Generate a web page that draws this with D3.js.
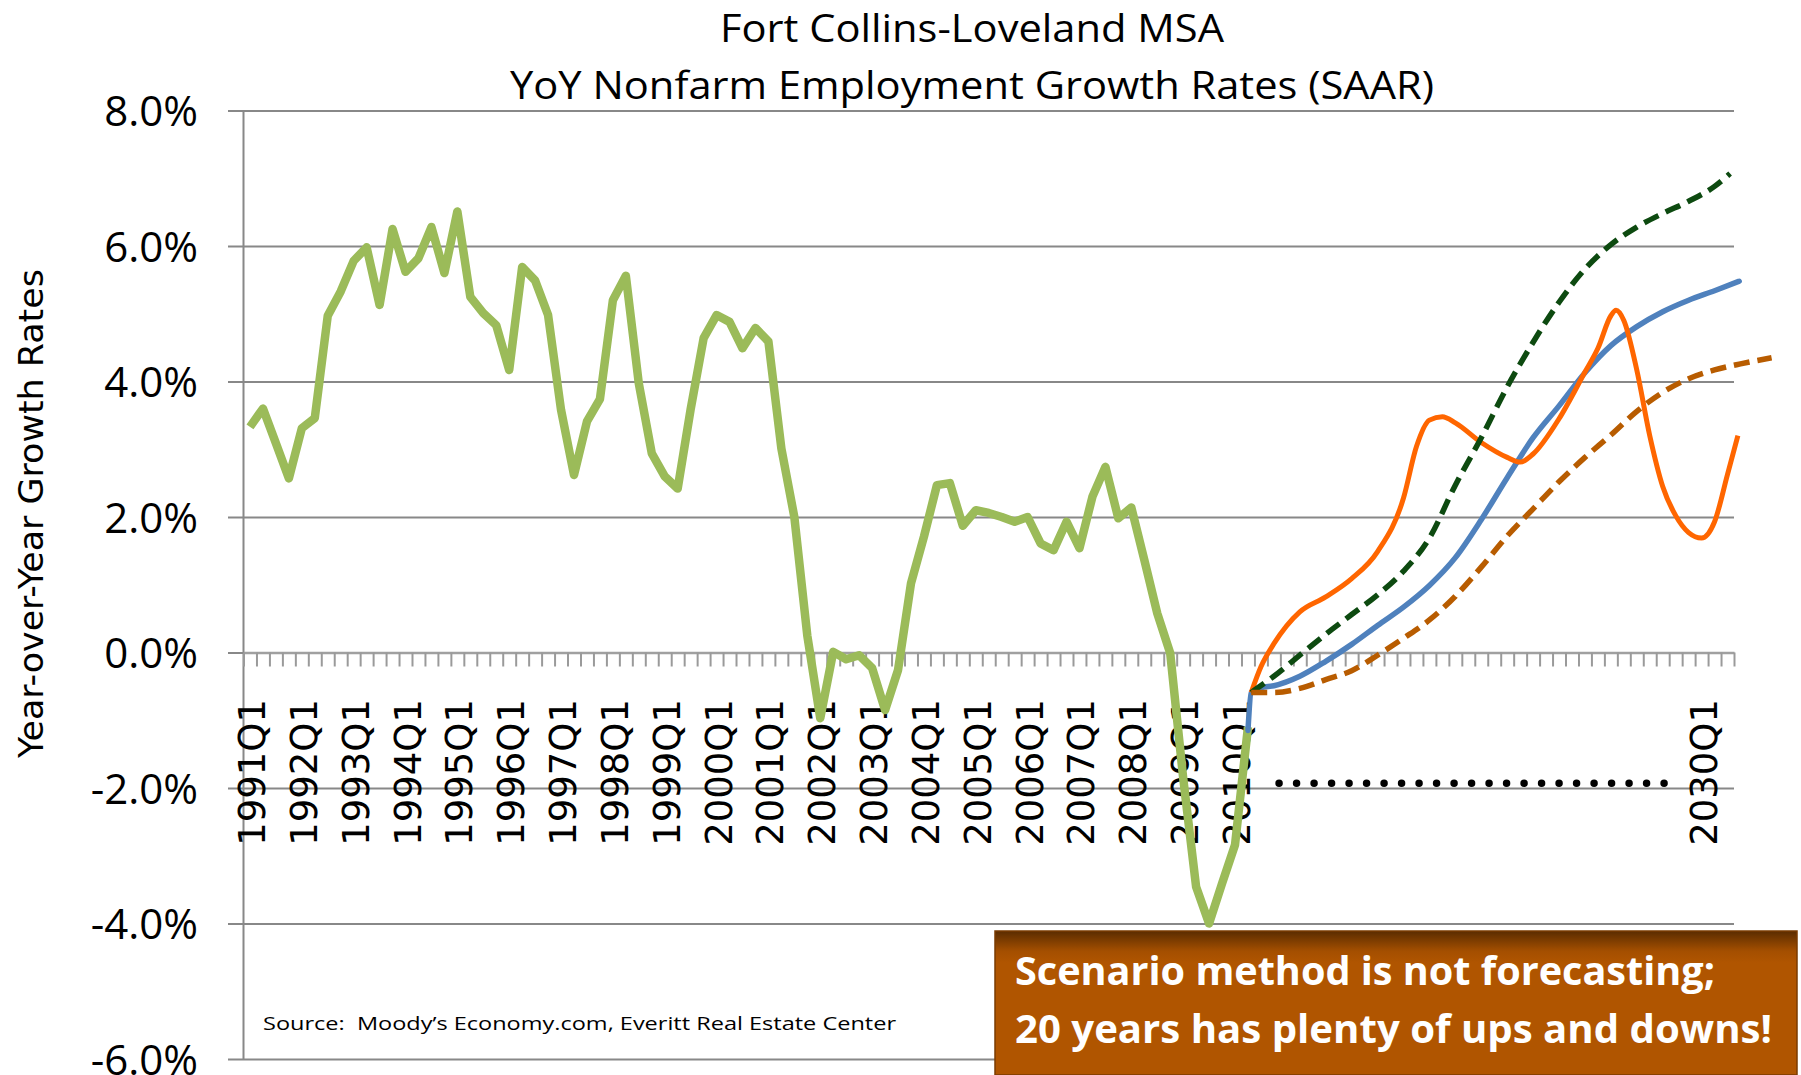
<!DOCTYPE html>
<html lang='en'>
<head>
<meta http-equiv='Content-Type' content='text/html;charset=utf-8'/>
<title>Fort Collins-Loveland MSA</title>
<script src='https://d3js.org/d3.v7.min.js'></script>
<style>
  body { margin: 0; background: #ffffff; }
</style>
</head>
<body>
<script>
'use strict'

// YoY nonfarm employment growth, %, one value per quarter from 1991Q1 (index 0)
const history = [
  3.33, 3.60, 3.09, 2.57, 3.31, 3.46, 4.97, 5.33, 5.78, 5.98,
  5.13, 6.25, 5.62, 5.82, 6.28, 5.60, 6.51, 5.25, 5.01, 4.83,
  4.17, 5.69, 5.49, 4.98, 3.58, 2.62, 3.41, 3.74, 5.20, 5.56,
  3.97, 2.94, 2.60, 2.42, 3.59, 4.64, 4.98, 4.88, 4.49, 4.79,
  4.59, 3.01, 2.00, 0.25, -0.97, 0.01, -0.10, -0.04, -0.23, -0.85,
  -0.26, 1.02, 1.71, 2.47, 2.50, 1.87, 2.10, 2.06, 2.00, 1.93,
  2.00, 1.61, 1.51, 1.93, 1.54, 2.30, 2.74, 1.98, 2.14, 1.37,
  0.58, -0.01, -1.85, -3.46, -4.00, -3.41, -2.84, -1.10
]

// category labels: [quarter index, label]
const xLabels = [
  [0, '1991Q1'], [4, '1992Q1'], [8, '1993Q1'], [12, '1994Q1'], [16, '1995Q1'],
  [20, '1996Q1'], [24, '1997Q1'], [28, '1998Q1'], [32, '1999Q1'], [36, '2000Q1'],
  [40, '2001Q1'], [44, '2002Q1'], [48, '2003Q1'], [52, '2004Q1'], [56, '2005Q1'],
  [60, '2006Q1'], [64, '2007Q1'], [68, '2008Q1'], [72, '2009Q1'], [76, '2010Q1'],
  [112, '2030Q1']
]
const nCategories = 115
const yTicks = [-6, -4, -2, 0, 2, 4, 6, 8]

// scenario curves: [quarter index, %]
const baseline = [
  [77, -1.15], [77.25, -0.59], [78, -0.52], [79, -0.49], [81, -0.35], [83, -0.13],
  [85, 0.12], [87, 0.40], [89, 0.67], [91, 0.99], [93, 1.40], [95, 1.96],
  [97, 2.58], [99, 3.17], [101, 3.64], [103, 4.13], [105, 4.53], [107, 4.81],
  [109, 5.03], [111, 5.20], [113, 5.34], [114.9, 5.48]
]
const swings = [
  [77.25, -0.59], [78, -0.21], [79, 0.13], [81, 0.60], [83, 0.82], [85, 1.09],
  [87, 1.49], [89, 2.28], [90, 3.04], [91, 3.43], [92, 3.48], [93, 3.39],
  [95, 3.10], [97, 2.88], [98, 2.81], [99, 2.93], [101, 3.45], [103, 4.14],
  [104, 4.49], [105, 4.97], [105.4, 5.05], [106, 4.90], [107, 4.17], [108, 3.20],
  [109, 2.45], [110, 2.02], [111, 1.77], [112, 1.69], [113, 1.93], [114, 2.63],
  [114.8, 3.20]
]
const upside = [
  [77.25, -0.59], [79, -0.35], [81, -0.04], [83, 0.27], [85, 0.56], [87, 0.85],
  [89, 1.20], [91, 1.69], [93, 2.47], [95, 3.17], [97, 3.92], [99, 4.58],
  [101, 5.17], [103, 5.66], [105, 6.02], [107, 6.28], [109, 6.48], [111, 6.66],
  [113, 6.88], [114.2, 7.07]
]
const downside = [
  [77.25, -0.59], [79, -0.59], [81, -0.53], [83, -0.40], [85, -0.27], [87, -0.04],
  [89, 0.21], [91, 0.48], [93, 0.83], [95, 1.26], [97, 1.72], [99, 2.12],
  [101, 2.52], [103, 2.88], [105, 3.21], [107, 3.56], [109, 3.84], [111, 4.04],
  [113, 4.17], [115, 4.26], [117.4, 4.35]
]
const flat = [[79.4, -1.93], [109.3, -1.93]]

const width = 1801
const height = 1075
const plot = {left: 243.5, right: 1734, top: 110.5, bottom: 1059}

const x = d3.scaleLinear()
  .domain([-0.5, nCategories - 0.5])
  .range([plot.left, plot.right])
const y = d3.scaleLinear()
  .domain([-6, 8])
  .range([plot.bottom, plot.top])

const svg = d3.select('body').append('svg')
  .attr('width', width)
  .attr('height', height)

svg.append('rect')
  .attr('width', width)
  .attr('height', height)
  .attr('fill', '#ffffff')

// title
const title = svg.append('g')
  .attr('font-family', "'Open Sans', sans-serif")
  .attr('font-size', 38)
  .attr('text-anchor', 'middle')
  .attr('fill', '#000')
title.append('text')
  .attr('x', 972).attr('y', 41.7)
  .attr('textLength', 504).attr('lengthAdjust', 'spacingAndGlyphs')
  .text('Fort Collins-Loveland MSA')
title.append('text')
  .attr('x', 972).attr('y', 99.3)
  .attr('textLength', 924).attr('lengthAdjust', 'spacingAndGlyphs')
  .text('YoY Nonfarm Employment Growth Rates (SAAR)')

// y axis with gridlines
const yAxis = svg.append('g')
  .attr('transform', `translate(${plot.left},0)`)
  .call(d3.axisLeft(y)
    .tickValues(yTicks)
    .tickSize(-(plot.right - plot.left))
    .tickPadding(45.5)
    .tickFormat(d => d.toFixed(1) + '%'))
yAxis.select('.domain').remove()
yAxis.selectAll('.tick line')
  .attr('x1', -15.5)
  .attr('stroke', '#888')
  .attr('stroke-width', 2)
yAxis.selectAll('.tick text')
  .attr('font-family', "'Open Sans', sans-serif")
  .attr('font-size', 42)
  .attr('dy', '0.357em')
  .attr('fill', '#000')

svg.append('line')
  .attr('x1', plot.left).attr('x2', plot.left)
  .attr('y1', plot.top).attr('y2', plot.bottom)
  .attr('stroke', '#888')
  .attr('stroke-width', 2)

// category axis on zero
const xAxis = svg.append('g')
  .attr('transform', `translate(0,${y(0)})`)
  .call(d3.axisBottom(x)
    .tickValues(d3.range(-0.5, nCategories, 1))
    .tickSizeInner(14)
    .tickSizeOuter(0)
    .tickFormat(''))
xAxis.select('.domain')
  .attr('stroke', '#a0a0a0')
  .attr('stroke-width', 2.5)
xAxis.selectAll('.tick line')
  .attr('stroke', '#9a9a9a')
  .attr('stroke-width', 2)

svg.append('g')
  .attr('font-family', "'DejaVu Sans', Verdana, sans-serif")
  .attr('font-size', 37)
  .attr('text-anchor', 'end')
  .selectAll('text')
  .data(xLabels)
  .join('text')
  .attr('transform', d => `translate(${x(d[0]) + 15},699) rotate(-90)`)
  .attr('fill', '#000')
  .text(d => d[1])

// y axis title
svg.append('text')
  .attr('transform', 'translate(43,513.6) rotate(-90)')
  .attr('text-anchor', 'middle')
  .attr('font-family', "'DejaVu Sans', Verdana, sans-serif")
  .attr('font-size', 34)
  .attr('textLength', 489)
  .attr('lengthAdjust', 'spacingAndGlyphs')
  .attr('fill', '#000')
  .text('Year-over-Year Growth Rates')

// lines
const histLine = d3.line()
  .x((d, i) => x(i))
  .y(d => y(d))

const curve = d3.line()
  .x(d => x(d[0]))
  .y(d => y(d[1]))
  .curve(d3.curveMonotoneX)

svg.append('path')
  .attr('d', histLine(history))
  .attr('fill', 'none')
  .attr('stroke', '#9bbb59')
  .attr('stroke-width', 8.5)
  .attr('stroke-linejoin', 'round')

svg.append('path')
  .attr('d', curve(baseline))
  .attr('fill', 'none')
  .attr('stroke', '#4f81bd')
  .attr('stroke-width', 5.5)
  .attr('stroke-linecap', 'round')

svg.append('path')
  .attr('d', curve(swings))
  .attr('fill', 'none')
  .attr('stroke', '#ff6600')
  .attr('stroke-width', 5)

svg.append('path')
  .attr('d', curve(upside))
  .attr('fill', 'none')
  .attr('stroke', '#0d4a10')
  .attr('stroke-width', 5.5)
  .attr('stroke-dasharray', '16,8')

svg.append('path')
  .attr('d', curve(downside))
  .attr('fill', 'none')
  .attr('stroke', '#b85c00')
  .attr('stroke-width', 5.5)
  .attr('stroke-dasharray', '16,8')

svg.append('path')
  .attr('d', d3.line().x(d => x(d[0])).y(d => y(d[1]))(flat))
  .attr('fill', 'none')
  .attr('stroke', '#000')
  .attr('stroke-width', 7.5)
  .attr('stroke-linecap', 'round')
  .attr('stroke-dasharray', '0,17.5')

// source
svg.append('text')
  .attr('x', 263).attr('y', 1030)
  .attr('font-family', "'Open Sans', sans-serif")
  .attr('font-size', 19)
  .attr('textLength', 633)
  .attr('lengthAdjust', 'spacingAndGlyphs')
  .style('white-space', 'pre')
  .attr('fill', '#000')
  .text('Source:  Moody\u2019s Economy.com, Everitt Real Estate Center')

// callout box
const grad = svg.append('defs').append('linearGradient')
  .attr('id', 'boxfill')
  .attr('x1', 0).attr('y1', 0).attr('x2', 0).attr('y2', 1)
grad.append('stop').attr('offset', 0).attr('stop-color', '#5a2c00')
grad.append('stop').attr('offset', 0.14).attr('stop-color', '#a44f00')
grad.append('stop').attr('offset', 0.22).attr('stop-color', '#b05500')
grad.append('stop').attr('offset', 1).attr('stop-color', '#b05500')

svg.append('rect')
  .attr('x', 995).attr('y', 931)
  .attr('width', 802).attr('height', 144)
  .attr('fill', 'url(#boxfill)')
  .attr('stroke', '#7a3b00')
  .attr('stroke-width', 1.5)

const box = svg.append('g')
  .attr('font-family', "'Open Sans', sans-serif")
  .attr('font-weight', 'bold')
  .attr('font-size', 40)
  .attr('fill', '#ffffff')
box.append('text')
  .attr('x', 1015).attr('y', 985)
  .attr('textLength', 700).attr('lengthAdjust', 'spacingAndGlyphs')
  .text('Scenario method is not forecasting;')
box.append('text')
  .attr('x', 1015).attr('y', 1043.3)
  .attr('textLength', 757).attr('lengthAdjust', 'spacingAndGlyphs')
  .text('20 years has plenty of ups and downs!')
</script>
</body>
</html>
